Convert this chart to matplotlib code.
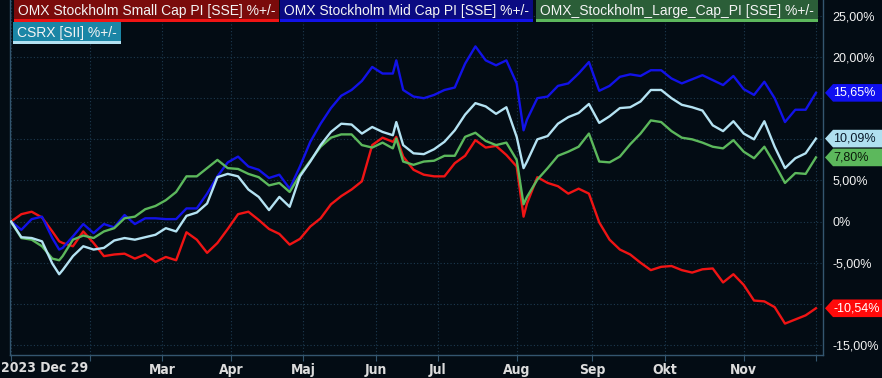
import numpy as np
import pandas as pd
import matplotlib
matplotlib.use("Agg")
import matplotlib.pyplot as plt
import matplotlib.transforms as mtransforms
from matplotlib import font_manager
from matplotlib.patches import Polygon, Rectangle
from matplotlib.ticker import FuncFormatter

# Trading calendar (Nasdaq Stockholm 2024)
holidays = ['2024-01-01', '2024-03-29', '2024-04-01', '2024-05-01',
            '2024-05-09', '2024-06-06', '2024-06-21']

# Sample dates
dates = ['2023-12-29', '2024-01-04', '2024-01-09', '2024-01-12', '2024-01-17', '2024-01-19',
         '2024-01-22', '2024-01-25', '2024-01-30', '2024-02-02', '2024-02-07', '2024-02-12',
         '2024-02-15', '2024-02-20', '2024-02-23', '2024-02-28', '2024-03-04', '2024-03-07',
         '2024-03-12', '2024-03-15', '2024-03-20', '2024-03-25', '2024-03-28', '2024-04-04',
         '2024-04-09', '2024-04-12', '2024-04-17', '2024-04-22', '2024-04-25', '2024-04-30',
         '2024-05-06', '2024-05-10', '2024-05-15', '2024-05-20', '2024-05-23', '2024-05-28',
         '2024-05-31', '2024-06-05', '2024-06-11', '2024-06-12', '2024-06-14', '2024-06-19',
         '2024-06-25', '2024-06-28', '2024-07-03', '2024-07-08', '2024-07-11', '2024-07-16',
         '2024-07-19', '2024-07-24', '2024-07-29', '2024-08-01', '2024-08-05', '2024-08-06',
         '2024-08-09', '2024-08-14', '2024-08-19', '2024-08-22', '2024-08-27', '2024-08-30',
         '2024-09-04', '2024-09-09', '2024-09-12', '2024-09-17', '2024-09-20', '2024-09-25',
         '2024-09-30', '2024-10-03', '2024-10-08', '2024-10-11', '2024-10-16', '2024-10-21',
         '2024-10-24', '2024-10-29', '2024-11-01', '2024-11-06', '2024-11-11', '2024-11-14',
         '2024-11-19', '2024-11-22', '2024-11-27', '2024-12-02']

small_cap = [0, 0.9, 1.2, 0.5, -1.2, -2.4, -2.6, -3.0, -1.2, -2.6, -4.2, -4.0, -3.9, -4.5,
             -4.0, -4.9, -4.3, -4.7, -1.3, -2.2, -3.8, -2.6, -0.9, 0.9, 1.2, 0.2, -0.9, -1.5,
             -2.8, -2.1, -0.6, 0.4, 2.1, 3.1, 3.9, 4.9, 9.3, 10.2, 9.7, 10.3, 7.9, 6.3, 5.7,
             5.5, 5.5, 7.1, 8.0, 9.9, 9.0, 9.2, 8.1, 6.7, 0.6, 2.2, 5.4, 4.7, 4.3, 3.4, 4.0,
             3.4, -0.1, -2.2, -3.4, -4.0, -5.0, -5.9, -5.5, -5.4, -5.9, -6.2, -5.8, -5.7,
             -7.4, -6.4, -7.7, -9.6, -9.7, -10.4, -12.4, -11.9, -11.4, -10.54]

mid_cap = [0, -1.0, 0.3, 0.6, -2.0, -3.4, -3.2, -1.8, -0.3, -1.4, -0.3, -0.7, 0.8, -0.3,
           0.4, 0.4, 0.3, 0.3, 1.6, 1.6, 3.4, 5.5, 7.2, 7.9, 6.7, 6.3, 5.3, 5.7, 4.0, 6.7,
           9.7, 11.9, 13.8, 15.3, 16.0, 17.1, 18.8, 18.0, 18.0, 19.6, 16.0, 15.2, 15.0, 15.4,
           16.0, 16.3, 19.2, 21.3, 19.6, 19.0, 19.6, 16.8, 11.1, 12.4, 15.0, 15.2, 16.5, 16.8,
           18.0, 19.4, 15.9, 16.5, 17.6, 17.9, 17.7, 18.4, 18.4, 17.4, 16.8, 17.3, 17.8, 17.2,
           16.6, 17.7, 16.1, 15.4, 17.0, 15.0, 12.1, 13.6, 13.6, 15.65]

large_cap = [0, -2.0, -2.2, -3.0, -4.5, -4.7, -4.2, -2.2, -1.7, -2.0, -1.2, -0.8, 0.4, 0.6,
             1.5, 1.9, 2.6, 3.6, 5.5, 5.5, 6.5, 7.5, 6.5, 6.4, 5.8, 5.4, 4.4, 4.7, 3.6, 5.7,
             7.4, 9.1, 10.2, 10.6, 10.6, 9.3, 9.0, 9.6, 8.9, 10.1, 7.3, 6.9, 7.3, 7.4, 8.0,
             8.0, 10.3, 10.8, 9.8, 9.3, 9.6, 7.5, 2.1, 3.0, 5.1, 6.5, 8.0, 8.5, 9.1, 10.7,
             7.3, 7.2, 7.9, 9.4, 10.7, 12.3, 12.1, 11.0, 10.2, 10.0, 9.6, 9.1, 8.9, 9.9, 8.5,
             7.7, 9.1, 7.0, 4.7, 5.9, 5.8, 7.80]

csrx = [0, -1.9, -2.0, -2.4, -5.1, -6.4, -5.9, -4.2, -3.0, -3.4, -3.2, -2.3, -2.0, -2.2,
        -1.9, -1.6, -0.8, -1.2, 0.7, 1.1, 2.2, 5.4, 5.8, 5.5, 3.9, 3.0, 1.4, 3.0, 1.8, 5.5,
        7.3, 9.3, 10.9, 11.9, 11.8, 10.7, 11.5, 10.9, 10.5, 12.1, 9.3, 8.3, 8.2, 8.8, 9.7,
        11.1, 13.0, 14.4, 14.0, 13.1, 13.9, 10.3, 6.5, 7.3, 10.0, 10.4, 11.9, 12.7, 13.2,
        14.3, 12.0, 12.8, 13.8, 13.9, 14.6, 16.0, 16.0, 15.0, 14.2, 13.9, 13.5, 11.7, 11.0,
        12.2, 10.7, 10.0, 12.2, 9.1, 6.5, 7.7, 8.3, 10.09]

series_names = ['OMX Stockholm Small Cap PI [SSE] %+/-',
                'OMX Stockholm Mid Cap PI [SSE] %+/-',
                'OMX_Stockholm_Large_Cap_PI [SSE] %+/-',
                'CSRX [SII] %+/-']
series_values = [small_cap, mid_cap, large_cap, csrx]
line_colors = ['#f01414', '#1212e8', '#5cb85c', '#b4e2f2']
legend_bg = ['#7a0b0b', '#0a0a82', '#2b5e38', '#1b86a6']
tag_bg = ['#ff0a0a', '#1010f0', '#5cb85c', '#b0e0f0']
tag_fg = ['white', 'white', '#0a1a0a', '#0a1a2a']

tick_dates = ['2023-12-29', '2024-02-01', '2024-03-01', '2024-04-02', '2024-05-02',
              '2024-06-03', '2024-07-01', '2024-08-01', '2024-09-02', '2024-10-01',
              '2024-11-01', '2024-12-02']
first_label = '2023 Dec 29'
tick_labels = ['', '', 'Mar', 'Apr', 'Maj', 'Jun', 'Jul', 'Aug', 'Sep', 'Okt', 'Nov', '']
y_ticks = [-15, -10, -5, 0, 5, 10, 15, 20, 25]

# map dates to trading-day number
days = pd.bdate_range('2023-12-29', '2024-12-31')
days = days[~days.isin(pd.to_datetime(holidays))]
xpos = days.get_indexer(pd.to_datetime(dates))
xticks = days.get_indexer(pd.to_datetime(tick_dates))

# pick a narrow bold font for the date axis if one is installed
fonts = font_manager.fontManager.ttflist
names = {f.name for f in fonts}
date_font = dict(family=['DejaVu Sans'], stretch='normal', size=9.0)
if 'Liberation Sans Narrow' in names:
    date_font = dict(family=['Liberation Sans Narrow'], stretch='normal', size=10.5)
elif any(f.name == 'DejaVu Sans' and f.stretch == 'condensed' for f in fonts):
    date_font = dict(family=['DejaVu Sans'], stretch='condensed', size=10)
elif 'Roboto Condensed' in names:
    date_font = dict(family=['Roboto Condensed'], stretch='normal', size=10.5)
elif 'Roboto' in names:
    date_font = dict(family=['Roboto'], stretch='normal', size=9.5)

bg = '#030c14'
grid_c = '#1d3a50'
axis_c = '#34566f'

W, H = 882, 378
fig = plt.figure(figsize=(W / 100, H / 100), dpi=100, facecolor=bg)
ax = fig.add_axes([10 / W, 23 / H, 813 / W, 355 / H], facecolor=bg)

for vals, c in zip(series_values, line_colors):
    ax.plot(xpos, vals, color=c, lw=1.7, solid_joinstyle='round', zorder=3)

ax.set_xlim(-0.3, 236.05)
ax.set_ylim(-16.22, 26.94)

ax.set_xticks(xticks)
ax.set_xticklabels(tick_labels)
ax.set_yticks(y_ticks)

def pct(v, _):
    if v == 0:
        return '0%'
    return f'{v:.2f}%'.replace('.', ',')

ax.yaxis.set_major_formatter(FuncFormatter(pct))
ax.yaxis.tick_right()
ax.tick_params(axis='y', length=0, pad=7, labelsize=9, labelcolor='#f2f2f2')
ax.tick_params(axis='x', length=4, width=0.8, color=axis_c, pad=2, labelcolor='#dcdcdc')
for lbl in ax.get_xticklabels():
    lbl.set_family(date_font['family'])
    lbl.set_stretch(date_font['stretch'])
    lbl.set_fontweight('bold')
    lbl.set_fontsize(date_font['size'])
end_vals = [vals[-1] for vals in series_values]
for lbl, tv in zip(ax.get_yticklabels(), y_ticks):
    lbl.set_family(['Liberation Sans', 'DejaVu Sans'])
    # tick labels sitting under an end-value tag are covered by it
    if any(abs(tv - ev) < 1.0 for ev in end_vals):
        lbl.set_visible(False)

# first date label starts at the left edge of the picture
fig.text(1 / W, 1 - 368 / H, first_label, color='#dcdcdc', va='center', ha='left',
         family=date_font['family'], stretch=date_font['stretch'], fontweight='bold',
         fontsize=date_font['size'])

ax.grid(True, color=grid_c, lw=0.8, ls=(0, (1, 2)))
ax.spines['top'].set_visible(False)
for side in ['left', 'right', 'bottom']:
    ax.spines[side].set_color(axis_c)
    ax.spines[side].set_linewidth(1.0)

# legend boxes along the top
leg_pos = [(18, 11), (284, 11), (540, 11), (17, 33)]
fig.canvas.draw()
renderer = fig.canvas.get_renderer()
for name, (px, py), fc, lc in zip(series_names, leg_pos, legend_bg, line_colors):
    t = fig.text(px / W, 1 - py / H, name, color='#f4f4f4', fontsize=10,
                 family=['Liberation Sans', 'DejaVu Sans'], va='center', ha='left',
                 bbox=dict(boxstyle='square,pad=0.28', fc=fc, ec='none'), zorder=5)
    fig.canvas.draw()
    bb = t.get_bbox_patch().get_window_extent(renderer)
    fig.patches.append(Rectangle((bb.x0 / W, bb.y0 / H), bb.width / W, 2.5 / H,
                                 transform=fig.transFigure, fc=lc, ec='none', zorder=6))

# end value tags on the right
tr = mtransforms.blended_transform_factory(fig.transFigure, ax.transData)
hh = 8.8 / 8.225
for v, fc, tc in zip(end_vals, tag_bg, tag_fg):
    x0, x1, x2 = 825 / W, 833 / W, 1.0
    poly = Polygon([(x0, v), (x1, v + hh), (x2, v + hh), (x2, v - hh), (x1, v - hh)],
                   closed=True, transform=tr, fc=fc, ec='none', clip_on=False, zorder=7)
    fig.patches.append(poly)
    fig.text(833 / W, v, pct(v, None), transform=tr, color=tc, fontsize=9,
             family=['Liberation Sans', 'DejaVu Sans'], va='center', ha='left', zorder=8)

fig.savefig('out.png', dpi=100, facecolor=bg)
